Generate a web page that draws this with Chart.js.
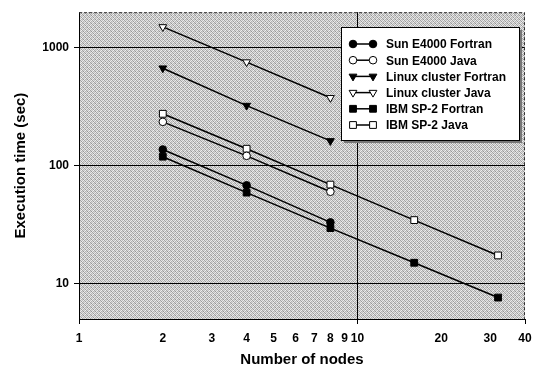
<!DOCTYPE html>
<html>
<head>
<meta charset="utf-8">
<script src="https://cdn.jsdelivr.net/npm/chart.js@4"></script>
<style>
  html, body { margin: 0; padding: 0; background: #fff; }
</style>
</head>
<body>
<canvas id="chart" width="533" height="373"></canvas>
<script>
// node counts
const nodesShort = [2, 4, 8];
const nodesLong = [2, 4, 8, 16, 32];

// execution time (sec)
const sunFortran = [137, 68, 33];
const sunJava = [235, 121, 60];
const linuxFortran = [670, 323, 162];
const linuxJava = [1500, 755, 376];
const ibmFortran = [119, 59, 29.5, 15, 7.6];
const ibmJava = [275, 139, 69, 34.5, 17.3];

const xTicks = [1, 2, 3, 4, 5, 6, 7, 8, 9, 10, 20, 30, 40];
const yTicks = [10, 100, 1000];

const FONT = "'Liberation Sans', Arial, sans-serif";

function pts(xs, ys) {
  return xs.map((x, i) => ({ x: x, y: ys[i] }));
}

function series(label, xs, ys, style, filled, radius, rotation) {
  return {
    label: label,
    data: pts(xs, ys),
    borderColor: '#000',
    borderWidth: 1.5,
    pointStyle: style,
    pointRotation: rotation || 0,
    pointRadius: radius,
    pointBorderWidth: 1,
    pointBorderColor: '#000',
    pointBackgroundColor: filled ? '#000' : '#fff',
    tension: 0,
    fill: false
  };
}

// grey dithered fill of the plot area, like the scanned original
function ditherPattern(ctx) {
  const shades = [
    [165, 225, 190, 235],
    [220, 155, 235, 180],
    [195, 240, 165, 215],
    [235, 180, 210, 150]
  ];
  const c = document.createElement('canvas');
  c.width = 4; c.height = 4;
  const g = c.getContext('2d');
  shades.forEach((row, y) => row.forEach((v, x) => {
    g.fillStyle = 'rgb(' + v + ',' + v + ',' + v + ')';
    g.fillRect(x, y, 1, 1);
  }));
  return ctx.createPattern(c, 'repeat');
}

const plotBackground = {
  id: 'plotBackground',
  beforeDraw(chart) {
    const { ctx, chartArea: a } = chart;
    ctx.save();
    ctx.fillStyle = ditherPattern(ctx);
    ctx.fillRect(a.left, a.top, a.right - a.left, a.bottom - a.top);
    ctx.restore();
  },
  afterDatasetsDraw(chart) {
    const { ctx, chartArea: a } = chart;
    ctx.save();
    ctx.strokeStyle = '#333';
    ctx.lineWidth = 1;
    ctx.setLineDash([3, 2]);
    ctx.beginPath();
    ctx.moveTo(a.left, a.top + 0.5);
    ctx.lineTo(a.right - 0.5, a.top + 0.5);
    ctx.lineTo(a.right - 0.5, a.bottom);
    ctx.stroke();
    ctx.restore();
  }
};

const boxLegend = {
  id: 'boxLegend',
  afterDraw(chart) {
    const ctx = chart.ctx;
    const x0 = 341, y0 = 27, w = 178, h = 113;
    ctx.save();
    ctx.fillStyle = '#777';
    ctx.fillRect(x0 + 3, y0 + 3, w, h);
    ctx.fillStyle = '#fff';
    ctx.fillRect(x0, y0, w, h);
    ctx.strokeStyle = '#000';
    ctx.lineWidth = 1;
    ctx.strokeRect(x0 + 0.5, y0 + 0.5, w, h);
    ctx.font = 'bold 12px ' + FONT;
    ctx.textBaseline = 'middle';
    chart.data.datasets.forEach((ds, i) => {
      const y = y0 + 17 + i * 16.2;
      ctx.strokeStyle = '#000';
      ctx.lineWidth = 1.5;
      ctx.beginPath();
      ctx.moveTo(353, y);
      ctx.lineTo(373, y);
      ctx.stroke();
      [353, 373].forEach(px => {
        ctx.fillStyle = ds.pointBackgroundColor;
        ctx.strokeStyle = '#000';
        ctx.lineWidth = 1;
        Chart.helpers.drawPoint(ctx, {
          pointStyle: ds.pointStyle,
          radius: ds.pointRadius,
          rotation: ds.pointRotation,
          borderWidth: 1
        }, px, y);
      });
      ctx.fillStyle = '#000';
      ctx.fillText(ds.label, 386, y + 1);
    });
    ctx.restore();
  }
};

new Chart(document.getElementById('chart'), {
  type: 'line',
  data: {
    datasets: [
      series('Sun E4000 Fortran', nodesShort, sunFortran, 'circle', true, 3.8),
      series('Sun E4000 Java', nodesShort, sunJava, 'circle', false, 3.8),
      series('Linux cluster Fortran', nodesShort, linuxFortran, 'triangle', true, 4.5, 180),
      series('Linux cluster Java', nodesShort, linuxJava, 'triangle', false, 4.5, 180),
      series('IBM SP-2 Fortran', nodesLong, ibmFortran, 'rect', true, 4.8),
      series('IBM SP-2 Java', nodesLong, ibmJava, 'rect', false, 4.8)
    ]
  },
  options: {
    responsive: false,
    animation: false,
    layout: { padding: { top: 10, right: 8, left: 0, bottom: 0 } },
    plugins: {
      legend: { display: false },
      tooltip: { enabled: false }
    },
    scales: {
      x: {
        type: 'logarithmic',
        min: 1,
        max: 40,
        afterBuildTicks: (scale) => { scale.ticks = xTicks.map(v => ({ value: v })); },
        afterFit: (scale) => {
          scale.height = 54;
          scale.paddingLeft = 0;
          scale.paddingRight = 0;
        },
        ticks: {
          autoSkip: false,
          maxRotation: 0,
          padding: 7,
          color: '#000',
          font: { family: FONT, size: 12, weight: 'bold' },
          callback: (v) => String(v)
        },
        grid: {
          color: (c) => (c.tick && c.tick.value === 10) ? '#000' : 'rgba(0,0,0,0)',
          tickColor: (c) => (c.tick && (c.tick.value === 1 || c.tick.value === 10 || c.tick.value === 40)) ? '#000' : 'rgba(0,0,0,0)',
          tickLength: 5,
          lineWidth: 1
        },
        border: { color: '#000', width: 1 },
        title: {
          display: true,
          text: 'Number of nodes',
          color: '#000',
          font: { family: FONT, size: 15, weight: 'bold' },
          padding: { top: 0, bottom: 4 }
        }
      },
      y: {
        type: 'logarithmic',
        min: 5,
        max: 2000,
        afterBuildTicks: (scale) => { scale.ticks = yTicks.map(v => ({ value: v })); },
        afterFit: (scale) => { scale.width = 79; },
        ticks: {
          padding: 5,
          color: '#000',
          font: { family: FONT, size: 12, weight: 'bold' },
          callback: (v) => String(v)
        },
        grid: {
          color: '#000',
          tickColor: '#000',
          tickLength: 5,
          lineWidth: 1
        },
        border: { color: '#000', width: 1 },
        title: {
          display: true,
          text: 'Execution time (sec)',
          color: '#000',
          font: { family: FONT, size: 15, weight: 'bold' },
          padding: { top: 12, bottom: 0 }
        }
      }
    }
  },
  plugins: [plotBackground, boxLegend]
});
</script>
</body>
</html>
